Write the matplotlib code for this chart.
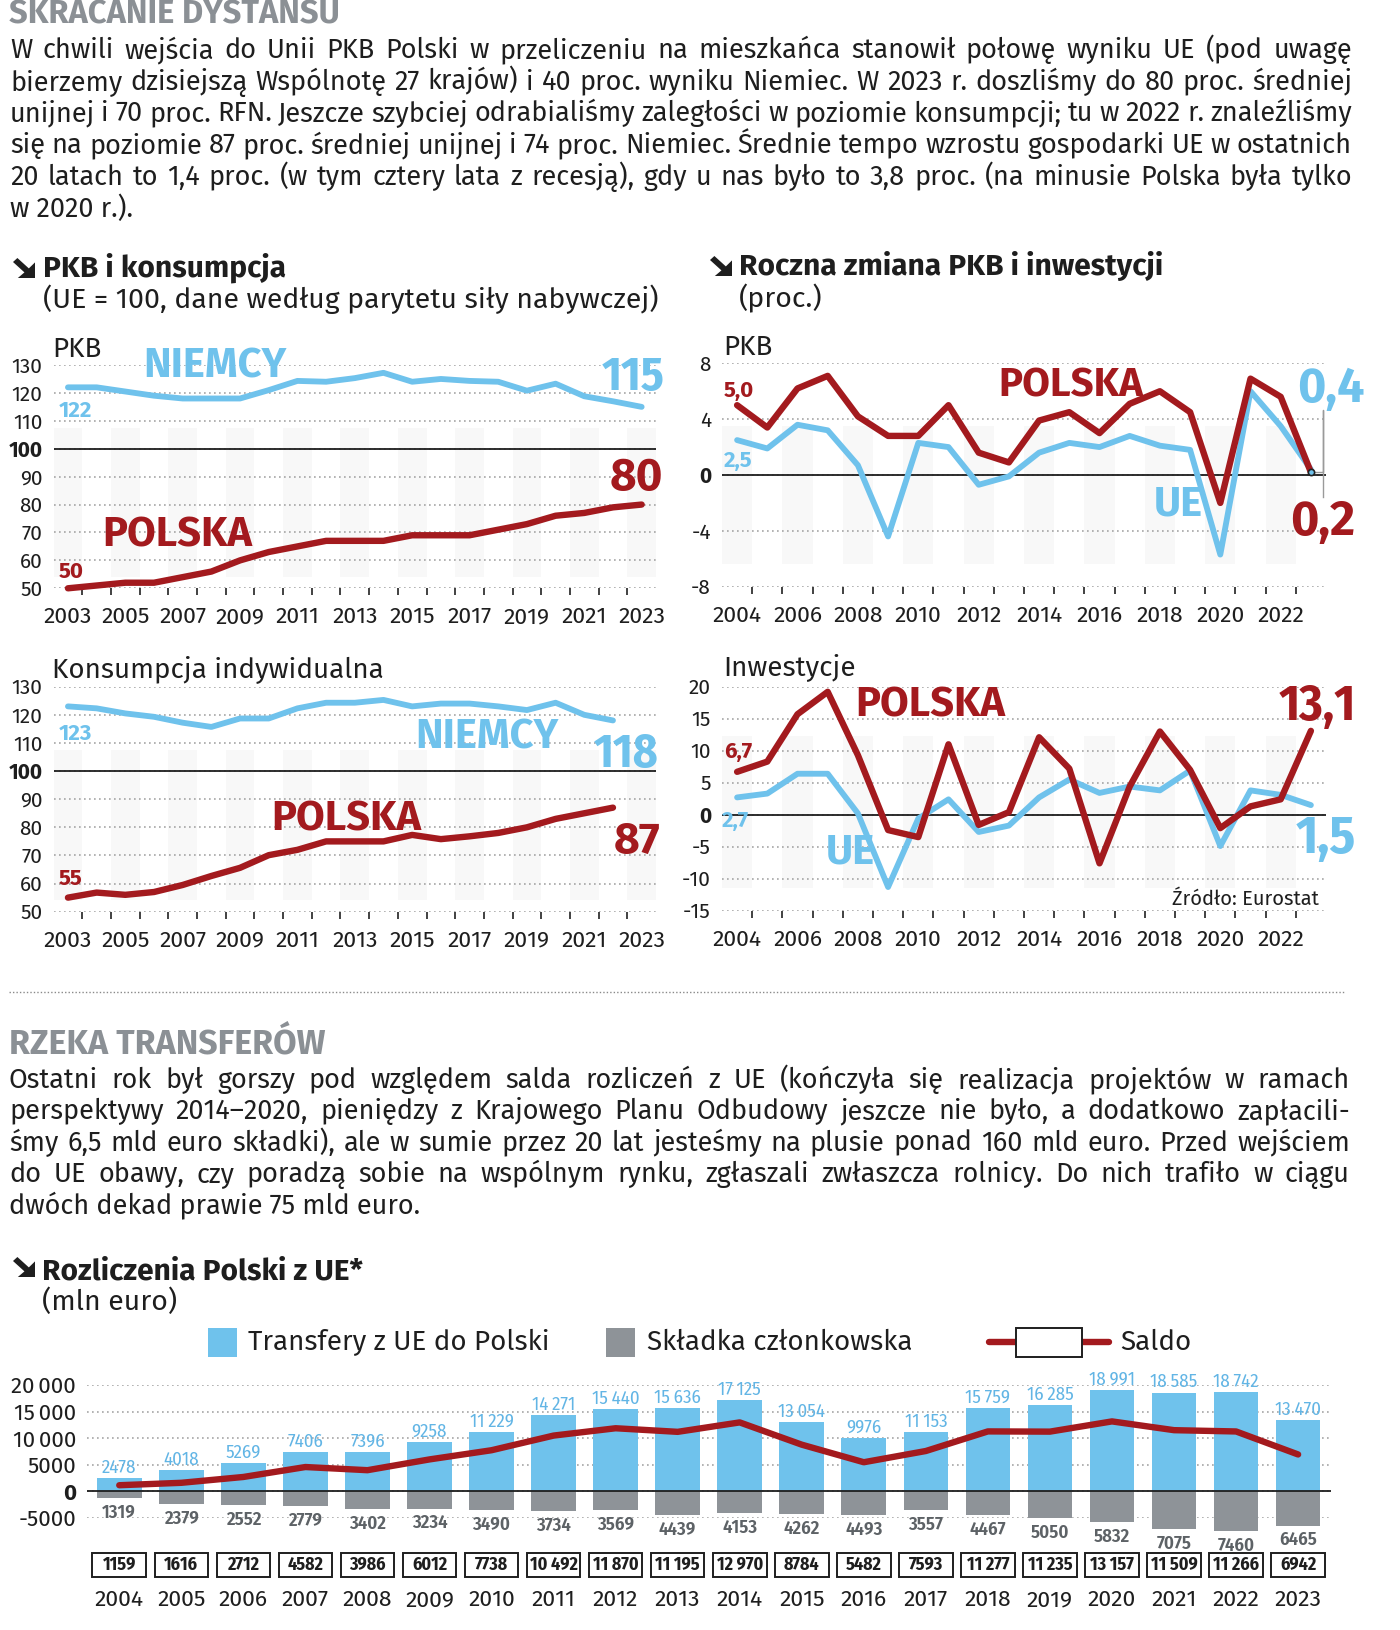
import matplotlib
matplotlib.use('Agg')
import matplotlib.pyplot as plt
from matplotlib import transforms
from matplotlib.patches import Rectangle, Polygon
from matplotlib.lines import Line2D

FONT = ['Fira Sans', 'Noto Sans', 'DejaVu Sans']
COND = ['Fira Sans Condensed', 'Fira Sans', 'DejaVu Sans']
plt.rcParams['font.family'] = FONT

RED = '#a31a1e'
BLUE = '#6fc2ec'
BLUE_TXT = '#62b5e5'
GRAY_BAR = '#8e9398'
GRAY_TXT = '#5d6266'
GRAY_TITLE = '#8b9095'
TXT = '#1e1e1e'
W, H = 1400, 1630

# ---- dane: PKB per capita (UE = 100) ----
lata_pkb = list(range(2003, 2024))
pkb_niemcy = [122, 122, 120.5, 119, 118, 118, 118, 121, 124.3, 124, 125.3, 127.2,
              124, 125, 124.3, 124, 120.8, 123.3, 118.8, 117, 115]
pkb_polska = [50, 51, 52, 52, 54, 56, 60, 63, 65, 67, 67, 67, 69, 69, 69, 71, 73,
              76, 77, 79, 80]

# ---- dane: konsumpcja indywidualna (UE = 100) ----
lata_kons = list(range(2003, 2023))
kons_niemcy = [123, 122.3, 120.5, 119.3, 117.2, 115.7, 118.7, 118.7, 122.3, 124.3,
               124.3, 125.3, 123, 124, 124, 123, 121.7, 124.3, 120, 118]
kons_polska = [55, 56.8, 56, 57, 59.5, 62.7, 65.6, 70.1, 72, 75, 75, 75, 77.3, 75.8,
               76.8, 78, 80, 83, 85, 87]

# ---- dane: roczna zmiana PKB i inwestycji (proc.) ----
lata_zm = list(range(2004, 2024))
pkb_zm_polska = [5.0, 3.4, 6.2, 7.1, 4.2, 2.8, 2.8, 5.0, 1.6, 0.9, 3.9, 4.5, 3.0,
                 5.1, 6.0, 4.5, -2.0, 6.9, 5.6, 0.2]
pkb_zm_ue = [2.5, 1.9, 3.6, 3.2, 0.7, -4.4, 2.3, 2.0, -0.7, -0.1, 1.6, 2.3, 2.0,
             2.8, 2.1, 1.8, -5.7, 6.0, 3.5, 0.4]
inw_polska = [6.7, 8.3, 15.7, 19.2, 9.3, -2.4, -3.5, 11.0, -1.6, 0.4, 12.1, 7.2,
              -7.6, 4.4, 13.0, 7.0, -2.1, 1.3, 2.4, 13.1]
inw_ue = [2.7, 3.3, 6.4, 6.4, 0.2, -11.3, -0.6, 2.4, -2.7, -1.7, 2.7, 5.5, 3.4,
          4.4, 3.8, 6.9, -4.9, 3.8, 3.1, 1.5]

# ---- dane: rozliczenia Polski z UE (mln euro) ----
lata_rozl = list(range(2004, 2024))
transfery = [2478, 4018, 5269, 7406, 7396, 9258, 11229, 14271, 15440, 15636, 17125,
             13054, 9976, 11153, 15759, 16285, 18991, 18585, 18742, 13470]
skladka = [1319, 2379, 2552, 2779, 3402, 3234, 3490, 3734, 3569, 4439, 4153, 4262,
           4493, 3557, 4467, 5050, 5832, 7075, 7460, 6465]
saldo = [1159, 1616, 2712, 4582, 3986, 6012, 7738, 10492, 11870, 11195, 12970, 8784,
         5482, 7593, 11277, 11235, 13157, 11509, 11266, 6942]

tekst1 = [
    "W chwili wejścia do Unii PKB Polski w przeliczeniu na mieszkańca stanowił połowę wyniku UE (pod uwagę",
    "bierzemy dzisiejszą Wspólnotę 27 krajów) i 40 proc. wyniku Niemiec. W 2023 r. doszliśmy do 80 proc. średniej",
    "unijnej i 70 proc. RFN. Jeszcze szybciej odrabialiśmy zaległości w poziomie konsumpcji; tu w 2022 r. znaleźliśmy",
    "się na poziomie 87 proc. średniej unijnej i 74 proc. Niemiec. Średnie tempo wzrostu gospodarki UE w ostatnich",
    "20 latach to 1,4 proc. (w tym cztery lata z recesją), gdy u nas było to 3,8 proc. (na minusie Polska była tylko",
    "w 2020 r.).",
]
tekst2 = [
    "Ostatni rok był gorszy pod względem salda rozliczeń z UE (kończyła się realizacja projektów w ramach",
    "perspektywy 2014–2020, pieniędzy z Krajowego Planu Odbudowy jeszcze nie było, a dodatkowo zapłacili-",
    "śmy 6,5 mld euro składki), ale w sumie przez 20 lat jesteśmy na plusie ponad 160 mld euro. Przed wejściem",
    "do UE obawy, czy poradzą sobie na wspólnym rynku, zgłaszali zwłaszcza rolnicy. Do nich trafiło w ciągu",
    "dwóch dekad prawie 75 mld euro.",
]


def fx(px):
    return px / W


def fy(py):
    return 1 - py / H


def fmt(v):
    if abs(v) >= 10000:
        return f'{v:,}'.replace(',', '\u2009')
    return str(v)


def dec(v):
    return f'{v:.1f}'.replace('.', ',')


fig = plt.figure(figsize=(W / 100, H / 100), dpi=100)
renderer = fig.canvas.get_renderer()


def justify(lines, x0, x1, y0, step, size):
    for i, line in enumerate(lines):
        y = fy(y0 + i * step)
        if i == len(lines) - 1:
            fig.text(fx(x0), y, line, fontsize=size, color=TXT, va='baseline')
            continue
        words = line.split()
        texts = [fig.text(0, y, w, fontsize=size, color=TXT, va='baseline') for w in words]
        widths = [t.get_window_extent(renderer).width for t in texts]
        gap = (x1 - x0 - sum(widths)) / (len(words) - 1)
        x = x0
        for t, w in zip(texts, widths):
            t.set_x(fx(x))
            x += w + gap


def arrow_icon(x0, y0, w, h):
    pts = [(0, 0.2), (0.2, 0), (0.72, 0.52), (1, 0.22), (1, 1), (0.22, 1), (0.52, 0.72)]
    fig.add_artist(Polygon([(fx(x0 + px * w), fy(y0 + py * h)) for px, py in pts],
                           closed=True, transform=fig.transFigure, color=TXT, lw=0))


def line_axes(px_box, xlim, ylim, yticks, ref, years, stripe_rng):
    l, t, r, b = px_box
    ax = fig.add_axes([fx(l), fy(b), (r - l) / W, (b - t) / H])
    ax.set_xlim(xlim)
    ax.set_ylim(ylim)
    for s in ax.spines.values():
        s.set_visible(False)
    ax.set_yticks(yticks, [str(v) for v in yticks])
    for lbl in ax.get_yticklabels():
        if lbl.get_text() == str(ref):
            lbl.set_fontweight('bold')
    ax.tick_params(axis='y', length=0, pad=8, labelsize=15, colors=TXT)
    ax.grid(axis='y', ls=(0, (1, 2)), color='#a5a5a5', lw=1.2)
    ax.axhline(ref, color=TXT, lw=1.3, zorder=2)
    ax.set_xticks(years, [str(y) for y in years])
    ax.set_xticks([y + 0.5 for y in range(int(xlim[0] + 0.5), int(xlim[1] - 0.5))], minor=True)
    ax.tick_params(axis='x', which='major', length=0, pad=13, labelsize=16.5, colors=TXT)
    ax.tick_params(axis='x', which='minor', length=5, width=1.3, color='#333333', direction='out')
    for yr in range(int(xlim[0] + 0.5), int(xlim[1] + 0.5), 2):
        ax.axvspan(yr - 0.5, yr + 0.5, ymin=stripe_rng[0], ymax=stripe_rng[1],
                   color='#f8f8f8', lw=0, zorder=0)
    return ax


def label(ax, x, y, s, color, size, ha='left', family=FONT, weight='bold'):
    ax.text(x, y, s, color=color, fontsize=size, fontweight=weight, ha=ha, family=family)


# ---------- nagłówek ----------
fig.text(fx(9), fy(23), 'SKRACANIE DYSTANSU', fontsize=23.5, fontweight='bold', color=GRAY_TITLE)
justify(tekst1, 10, 1352, 58, 31.7, 19.5)

arrow_icon(13, 258, 22, 20)
fig.text(fx(43), fy(277), 'PKB i konsumpcja', fontsize=21.5, fontweight='bold', color=TXT)
fig.text(fx(43), fy(308), '(UE = 100, dane według parytetu siły nabywczej)', fontsize=20.5, color=TXT)
arrow_icon(710, 256, 22, 20)
fig.text(fx(739), fy(275), 'Roczna zmiana PKB i inwestycji', fontsize=21.5, fontweight='bold', color=TXT)
fig.text(fx(739), fy(307), '(proc.)', fontsize=20.5, color=TXT)

lw_red, lw_blue = 4.6, 4.2
kw_line = dict(solid_capstyle='round', solid_joinstyle='round', clip_on=False, zorder=3)

# ---------- PKB ----------
ax1 = line_axes((53.6, 365, 656, 588.3), (2002.5, 2023.5), (50, 130),
                list(range(50, 131, 10)), 100, list(range(2003, 2024, 2)), (0.05, 0.72))
ax1.plot(lata_pkb, pkb_niemcy, color=BLUE, lw=lw_blue, **kw_line)
ax1.plot(lata_pkb, pkb_polska, color=RED, lw=lw_red, **kw_line)
fig.text(fx(52), fy(357), 'PKB', fontsize=20, color=TXT)
label(ax1, 2005.62, 125.4, 'NIEMCY', BLUE, 30)
label(ax1, 2002.69, 111.4, str(pkb_niemcy[0]), BLUE, 16)
label(ax1, 2023.81, 121.0, str(pkb_niemcy[-1]), BLUE, 34, ha='right', family=COND)
label(ax1, 2004.21, 64.9, 'POLSKA', RED, 30)
label(ax1, 2002.69, 53.7, str(pkb_polska[0]), RED, 16)
label(ax1, 2023.74, 85.2, str(pkb_polska[-1]), RED, 33, ha='right')

# ---------- konsumpcja ----------
ax3 = line_axes((53.6, 686.7, 656, 911.7), (2002.5, 2023.5), (50, 130),
                list(range(50, 131, 10)), 100, list(range(2003, 2024, 2)), (0.05, 0.72))
ax3.plot(lata_kons, kons_niemcy, color=BLUE, lw=lw_blue, **kw_line)
ax3.plot(lata_kons, kons_polska, color=RED, lw=lw_red, **kw_line)
fig.text(fx(52), fy(677), 'Konsumpcja indywidualna', fontsize=20, color=TXT)
label(ax3, 2002.69, 111.0, str(kons_niemcy[0]), BLUE, 16)
label(ax3, 2015.1, 108.2, 'NIEMCY', BLUE, 30)
label(ax3, 2023.58, 101.4, str(kons_niemcy[-1]), BLUE, 34, ha='right', family=COND)
label(ax3, 2010.1, 79.0, 'POLSKA', RED, 30)
label(ax3, 2023.66, 70.9, str(kons_polska[-1]), RED, 32, ha='right')
label(ax3, 2002.69, 59.5, str(kons_polska[0]), RED, 16)

# ---------- roczna zmiana PKB ----------
ax2 = line_axes((722, 363.3, 1326, 586.7), (2003.5, 2023.5), (-8, 8),
                [-8, -4, 0, 4, 8], 0, list(range(2004, 2023, 2)), (0.1, 0.72))
ax2.plot(lata_zm, pkb_zm_ue, color=BLUE, lw=lw_blue, **kw_line)
ax2.plot(lata_zm, pkb_zm_polska, color=RED, lw=lw_red, **kw_line)
ax2.plot([lata_zm[-1], 2023.39, 2023.39, 2023.39], [pkb_zm_polska[-1], pkb_zm_polska[-1], 4.65, -1.55],
         color='#9a9a9a', lw=1, clip_on=False, zorder=2)
ax2.plot(lata_zm[-1], pkb_zm_polska[-1], marker='o', ms=4.5, mfc=BLUE, mec='#222222', mew=1.2,
         clip_on=False, zorder=4)
fig.text(fx(723), fy(355), 'PKB', fontsize=20, color=TXT)
label(ax2, 2003.57, 5.59, dec(pkb_zm_polska[0]), RED, 16)
label(ax2, 2003.57, 0.59, dec(pkb_zm_ue[0]), BLUE, 16)
label(ax2, 2012.65, 5.6, 'POLSKA', RED, 29)
label(ax2, 2017.8, -2.87, 'UE', BLUE, 30)
label(ax2, 2022.53, 5.25, dec(pkb_zm_ue[-1]), BLUE, 35)
label(ax2, 2022.3, -4.3, dec(pkb_zm_polska[-1]), RED, 35)

# ---------- inwestycje ----------
ax4 = line_axes((722, 686.7, 1326, 910.7), (2003.5, 2023.5), (-15, 20),
                list(range(-15, 21, 5)), 0, list(range(2004, 2023, 2)), (0.1, 0.78))
ax4.plot(lata_zm, inw_ue, color=BLUE, lw=lw_blue, **kw_line)
ax4.plot(lata_zm, inw_polska, color=RED, lw=lw_red, **kw_line)
fig.text(fx(723), fy(675), 'Inwestycje', fontsize=20, color=TXT)
label(ax4, 2003.57, 8.86, dec(inw_polska[0]), RED, 16)
label(ax4, 2003.5, -1.875, dec(inw_ue[0]), BLUE, 16)
label(ax4, 2007.9, 15.27, 'POLSKA', RED, 30)
label(ax4, 2006.94, -7.55, 'UE', BLUE, 30)
label(ax4, 2024.48, 14.8, dec(inw_polska[-1]), RED, 36, ha='right', family=COND)
label(ax4, 2024.48, -6.0, dec(inw_ue[-1]), BLUE, 38, ha='right', family=COND)
ax4.text(2023.28, -14.1, 'Źródło: Eurostat', color=TXT, fontsize=14.5, ha='right')

# ---------- separator i druga część ----------
fig.add_artist(Line2D([fx(9), fx(1344)], [fy(992), fy(992)], transform=fig.transFigure,
                      ls=(0, (1, 1.5)), color='#8a8a8a', lw=1))
fig.text(fx(9), fy(1054), 'RZEKA TRANSFERÓW', fontsize=24.5, fontweight='bold', color=GRAY_TITLE)
justify(tekst2, 9, 1350, 1088, 31.3, 19.5)

arrow_icon(13, 1257, 22, 20)
fig.text(fx(42), fy(1279), 'Rozliczenia Polski z UE*', fontsize=21.5, fontweight='bold', color=TXT)
fig.text(fx(42), fy(1310), '(mln euro)', fontsize=20.5, color=TXT)

# legenda
fig.add_artist(Rectangle((fx(207.6), fy(1357)), 29 / W, 29 / H, transform=fig.transFigure,
                         color=BLUE, lw=0))
fig.text(fx(248), fy(1350), 'Transfery z UE do Polski', fontsize=20, color=TXT)
fig.add_artist(Rectangle((fx(605.8), fy(1357)), 29 / W, 29 / H, transform=fig.transFigure,
                         color=GRAY_BAR, lw=0))
fig.text(fx(647), fy(1350), 'Składka członkowska', fontsize=20, color=TXT)
fig.add_artist(Line2D([fx(989), fx(1109)], [fy(1342), fy(1342)], transform=fig.transFigure,
                      color=RED, lw=4.6, solid_capstyle='round'))
fig.add_artist(Rectangle((fx(1016), fy(1357)), 66 / W, 29 / H, transform=fig.transFigure,
                         facecolor='white', edgecolor=TXT, lw=1.4, zorder=5))
fig.text(fx(1120), fy(1350), 'Saldo', fontsize=20, color=TXT)

# ---------- wykres słupkowy ----------
axb = fig.add_axes([fx(87), fy(1518), (1331 - 87) / W, (1518 - 1385) / H])
axb.set_xlim(2003.48, 2023.53)
axb.set_ylim(-5000, 20000)
for s in axb.spines.values():
    s.set_visible(False)
bticks = [-5000, 0, 5000, 10000, 15000, 20000]
axb.set_yticks(bticks, [fmt(v) for v in bticks])
for lbl in axb.get_yticklabels():
    if lbl.get_text() == '0':
        lbl.set_fontweight('bold')
axb.tick_params(axis='y', length=0, pad=8, labelsize=16, colors=TXT)
axb.set_xticks([])
axb.grid(axis='y', ls=(0, (1, 2)), color='#a5a5a5', lw=1.2, zorder=0)
axb.set_axisbelow(True)
axb.bar(lata_rozl, transfery, width=0.72, color=BLUE, zorder=2, clip_on=False)
axb.bar(lata_rozl, [-v for v in skladka], width=0.72, color=GRAY_BAR, zorder=2, clip_on=False)
axb.axhline(0, color=TXT, lw=1.3, zorder=3)
axb.plot(lata_rozl, saldo, color=RED, lw=4.6, solid_capstyle='round', solid_joinstyle='round',
         zorder=4)

blend = transforms.blended_transform_factory(axb.transData, axb.transAxes)
for yr, tr, sk, sa in zip(lata_rozl, transfery, skladka, saldo):
    axb.annotate(fmt(tr), (yr, tr), xytext=(0, 1), textcoords='offset points', ha='center',
                 va='bottom', color=BLUE_TXT, fontsize=13.5, family=COND, zorder=5,
                 annotation_clip=False)
    axb.annotate(fmt(sk), (yr, -sk), xytext=(0, -4), textcoords='offset points', ha='center',
                 va='top', color=GRAY_TXT, fontsize=13.5, fontweight='semibold', family=COND,
                 zorder=5, annotation_clip=False)
    axb.add_patch(Rectangle((yr - 0.432, -0.4436), 0.864, 0.18, transform=blend,
                            facecolor='white', edgecolor=TXT, lw=1.4, clip_on=False))
    axb.text(yr, -0.353, fmt(sa), transform=blend, ha='center', va='center', fontsize=13,
             fontweight='bold', family=COND, color=TXT)
    axb.text(yr, -0.617, str(yr), transform=blend, ha='center', va='center', fontsize=16.5,
             color=TXT)

fig.savefig('out.png', dpi=100)
